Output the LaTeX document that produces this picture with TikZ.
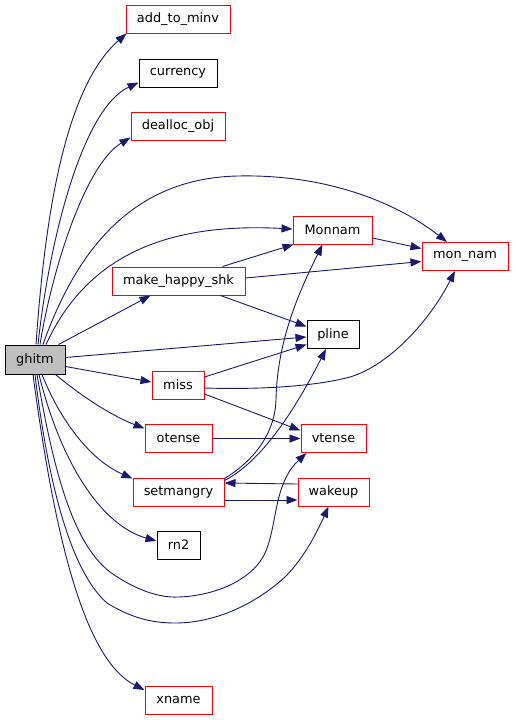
\documentclass[tikz,border=0pt]{standalone}
\usepackage{fontspec}
\setmainfont{DejaVu Sans}
\usetikzlibrary{arrows.meta}
\definecolor{edgeblue}{HTML}{191970}
\definecolor{boxred}{HTML}{FF0000}
\definecolor{rootgray}{HTML}{BFBFBF}
\begin{document}
\begin{tikzpicture}[x=1pt,y=-1pt,
  fn/.style={draw=boxred, line width=1pt, fill=white, inner sep=0pt, minimum height=28pt,
    font=\fontsize{12.9}{14}\selectfont, text=black},
  ext/.style={fn, draw=black},
  root/.style={fn, draw=black, fill=rootgray, minimum height=29pt},
  call/.style={draw=edgeblue, line width=0.9pt, -{Triangle[length=11pt,width=8pt]}, fill=none}
]
\useasboundingbox (0,0) rectangle (515,720);

% nodes
\node[root, minimum width=60pt] (ghitm) at (35,359.5) {ghitm};
\node[fn, minimum width=104pt] (add) at (178,19) {add\_to\_minv};
\node[ext, minimum width=78pt] (currency) at (178,73) {currency};
\node[fn, minimum width=94pt] (dealloc) at (178,126) {dealloc\_obj};
\node[fn, minimum width=79pt] (Monnam) at (332.5,230) {Monnam};
\node[fn, minimum width=86pt] (monnam) at (465,256.5) {mon\_nam};
\node[fn, minimum width=133pt] (mhs) at (178.5,281) {make\_happy\_shk};
\node[ext, minimum width=52pt] (pline) at (333,334.5) {pline};
\node[fn, minimum width=52pt] (miss) at (178,385) {miss};
\node[fn, minimum width=67pt] (otense) at (178.5,438.5) {otense};
\node[fn, minimum width=65pt] (vtense) at (333.5,438.5) {vtense};
\node[fn, minimum width=91pt] (setmangry) at (178.5,492) {setmangry};
\node[fn, minimum width=71pt] (wakeup) at (333.5,492) {wakeup};
\node[ext, minimum width=43pt] (rn2) at (178.5,545) {rn2};
\node[fn, minimum width=67pt] (xname) at (178.5,700) {xname};

% edges from ghitm
\draw[call] ([xshift=1pt]ghitm.north) .. controls (44,230) and (62,90) .. ([xshift=1pt]add.south west);
\draw[call] ([xshift=3pt]ghitm.north) .. controls (48,250) and (80,110) .. ([yshift=5pt]currency.south west);
\draw[call] ([xshift=5pt]ghitm.north) .. controls (52,270) and (85,165) .. ([yshift=3pt]dealloc.south west);
\draw[call] ([xshift=8pt]ghitm.north) .. controls (80,240) and (140,178) .. (238,176)
   .. controls (330,174) and (400,205) .. ([xshift=-18pt]monnam.north);
\draw[call] ([xshift=11pt]ghitm.north) .. controls (85,260) and (160,222) .. ([yshift=1pt]Monnam.west);
\draw[call] ([xshift=-7pt]ghitm.north east) -- ([xshift=-28pt]mhs.south);
\draw[call] ([yshift=2pt]ghitm.east) -- ([yshift=-2.5pt]pline.west);
\draw[call] ([yshift=-7pt]ghitm.east) -- ([yshift=3pt]miss.west);
\draw[call] ([xshift=-10pt]ghitm.south east) .. controls (80,395) and (110,415) .. ([yshift=10pt]otense.west);
\draw[call] ([xshift=7pt]ghitm.south) .. controls (60,420) and (90,460) .. ([yshift=-1pt]setmangry.north west);
\draw[call] ([xshift=4pt]ghitm.south) .. controls (60,460) and (100,525) .. ([yshift=4pt]rn2.west);
\draw[call] ([xshift=2pt]ghitm.south) .. controls (55,480) and (75,545) .. (110,572)
   .. controls (135,590) and (160,598) .. (178,597)
   .. controls (215,596) and (250,580) .. (263,557)
   .. controls (278,530) and (272,485) .. ([xshift=6pt]vtense.south west);
\draw[call] ([xshift=0pt]ghitm.south) .. controls (50,500) and (75,575) .. (107,603)
   .. controls (130,617) and (150,623) .. (175,623)
   .. controls (220,623) and (260,600) .. (285,577)
   .. controls (305,557) and (318,530) .. ([xshift=-5pt]wakeup.south);
\draw[call] ([xshift=-2pt]ghitm.south) .. controls (55,540) and (85,660) .. ([yshift=10pt]xname.west);

% other edges
\draw[call] ([xshift=44pt]mhs.north) -- ([xshift=1pt]Monnam.south west);
\draw[call] ([yshift=3pt]mhs.east) -- ([yshift=-5pt]monnam.west);
\draw[call] ([xshift=42pt]mhs.south) -- ([yshift=8pt]pline.west);
\draw[call] ([yshift=-8pt]Monnam.east) -- ([yshift=8pt]monnam.west);
\draw[call] ([yshift=8pt]miss.east) -- ([yshift=-10pt]pline.west);
\draw[call] ([yshift=-3pt]miss.east) .. controls (270,390) and (320,385) .. (350,377)
   .. controls (390,365) and (430,320) .. ([xshift=-10pt]monnam.south);
\draw[call] ([yshift=-9pt]miss.east) -- ([yshift=8pt]vtense.west);
\draw[call] (otense.east) -- (vtense.west);
\draw[call] ([yshift=-1pt]setmangry.north east) .. controls (258,458) and (275,430) .. (276,400)
   .. controls (277,340) and (300,290) .. ([xshift=-10pt]Monnam.south);
\draw[call] ([yshift=-3pt]setmangry.north east) .. controls (265,460) and (300,400) .. ([xshift=-7pt]pline.south);
\draw[call] ([yshift=-8pt]setmangry.east) -- ([yshift=-8pt]wakeup.west);
\draw[call] ([yshift=8pt]wakeup.west) -- ([yshift=9pt]setmangry.east);
\end{tikzpicture}
\end{document}
